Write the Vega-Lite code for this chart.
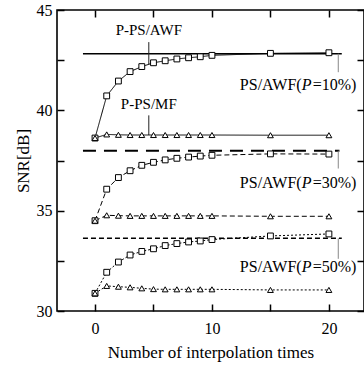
{
  "$schema": "https://vega.github.io/schema/vega-lite/v6.json",
  "width": 307,
  "height": 301,
  "autosize": "none",
  "padding": {"left": 57, "top": 10, "right": 0, "bottom": 58},
  "background": "white",
  "config": {
    "view": {"stroke": "black", "strokeWidth": 1.6},
    "font": "Liberation Serif",
    "axis": {
      "grid": false,
      "domain": false,
      "tickColor": "black",
      "tickWidth": 1.5,
      "labelColor": "black",
      "labelFont": "Liberation Serif",
      "labelFontSize": 16,
      "titleFont": "Liberation Serif",
      "titleFontSize": 17,
      "titleFontWeight": "normal",
      "titleColor": "black"
    }
  },
  "datasets": {
    "pts": [
      {"x": 0, "y": 38.62, "p": "10%", "m": "AWF"},
      {"x": 1, "y": 40.72, "p": "10%", "m": "AWF"},
      {"x": 2, "y": 41.46, "p": "10%", "m": "AWF"},
      {"x": 3, "y": 41.93, "p": "10%", "m": "AWF"},
      {"x": 4, "y": 42.18, "p": "10%", "m": "AWF"},
      {"x": 5, "y": 42.37, "p": "10%", "m": "AWF"},
      {"x": 6, "y": 42.47, "p": "10%", "m": "AWF"},
      {"x": 7, "y": 42.56, "p": "10%", "m": "AWF"},
      {"x": 8, "y": 42.62, "p": "10%", "m": "AWF"},
      {"x": 9, "y": 42.67, "p": "10%", "m": "AWF"},
      {"x": 10, "y": 42.74, "p": "10%", "m": "AWF"},
      {"x": 15, "y": 42.84, "p": "10%", "m": "AWF"},
      {"x": 20, "y": 42.87, "p": "10%", "m": "AWF"},
      {"x": 0, "y": 38.62, "p": "10%", "m": "MF"},
      {"x": 1, "y": 38.8, "p": "10%", "m": "MF"},
      {"x": 2, "y": 38.78, "p": "10%", "m": "MF"},
      {"x": 3, "y": 38.77, "p": "10%", "m": "MF"},
      {"x": 4, "y": 38.77, "p": "10%", "m": "MF"},
      {"x": 5, "y": 38.77, "p": "10%", "m": "MF"},
      {"x": 6, "y": 38.77, "p": "10%", "m": "MF"},
      {"x": 7, "y": 38.77, "p": "10%", "m": "MF"},
      {"x": 8, "y": 38.77, "p": "10%", "m": "MF"},
      {"x": 9, "y": 38.77, "p": "10%", "m": "MF"},
      {"x": 10, "y": 38.77, "p": "10%", "m": "MF"},
      {"x": 15, "y": 38.76, "p": "10%", "m": "MF"},
      {"x": 20, "y": 38.76, "p": "10%", "m": "MF"},
      {"x": 0, "y": 34.5, "p": "30%", "m": "AWF"},
      {"x": 1, "y": 36.07, "p": "30%", "m": "AWF"},
      {"x": 2, "y": 36.65, "p": "30%", "m": "AWF"},
      {"x": 3, "y": 36.99, "p": "30%", "m": "AWF"},
      {"x": 4, "y": 37.26, "p": "30%", "m": "AWF"},
      {"x": 5, "y": 37.41, "p": "30%", "m": "AWF"},
      {"x": 6, "y": 37.53, "p": "30%", "m": "AWF"},
      {"x": 7, "y": 37.61, "p": "30%", "m": "AWF"},
      {"x": 8, "y": 37.67, "p": "30%", "m": "AWF"},
      {"x": 9, "y": 37.72, "p": "30%", "m": "AWF"},
      {"x": 10, "y": 37.76, "p": "30%", "m": "AWF"},
      {"x": 15, "y": 37.83, "p": "30%", "m": "AWF"},
      {"x": 20, "y": 37.82, "p": "30%", "m": "AWF"},
      {"x": 0, "y": 34.5, "p": "30%", "m": "MF"},
      {"x": 1, "y": 34.77, "p": "30%", "m": "MF"},
      {"x": 2, "y": 34.75, "p": "30%", "m": "MF"},
      {"x": 3, "y": 34.74, "p": "30%", "m": "MF"},
      {"x": 4, "y": 34.74, "p": "30%", "m": "MF"},
      {"x": 5, "y": 34.74, "p": "30%", "m": "MF"},
      {"x": 6, "y": 34.74, "p": "30%", "m": "MF"},
      {"x": 7, "y": 34.74, "p": "30%", "m": "MF"},
      {"x": 8, "y": 34.74, "p": "30%", "m": "MF"},
      {"x": 9, "y": 34.74, "p": "30%", "m": "MF"},
      {"x": 10, "y": 34.74, "p": "30%", "m": "MF"},
      {"x": 15, "y": 34.72, "p": "30%", "m": "MF"},
      {"x": 20, "y": 34.72, "p": "30%", "m": "MF"},
      {"x": 0, "y": 30.88, "p": "50%", "m": "AWF"},
      {"x": 1, "y": 31.93, "p": "50%", "m": "AWF"},
      {"x": 2, "y": 32.44, "p": "50%", "m": "AWF"},
      {"x": 3, "y": 32.79, "p": "50%", "m": "AWF"},
      {"x": 4, "y": 32.97, "p": "50%", "m": "AWF"},
      {"x": 5, "y": 33.1, "p": "50%", "m": "AWF"},
      {"x": 6, "y": 33.26, "p": "50%", "m": "AWF"},
      {"x": 7, "y": 33.36, "p": "50%", "m": "AWF"},
      {"x": 8, "y": 33.44, "p": "50%", "m": "AWF"},
      {"x": 9, "y": 33.49, "p": "50%", "m": "AWF"},
      {"x": 10, "y": 33.56, "p": "50%", "m": "AWF"},
      {"x": 15, "y": 33.74, "p": "50%", "m": "AWF"},
      {"x": 20, "y": 33.84, "p": "50%", "m": "AWF"},
      {"x": 0, "y": 30.88, "p": "50%", "m": "MF"},
      {"x": 1, "y": 31.25, "p": "50%", "m": "MF"},
      {"x": 2, "y": 31.21, "p": "50%", "m": "MF"},
      {"x": 3, "y": 31.18, "p": "50%", "m": "MF"},
      {"x": 4, "y": 31.13, "p": "50%", "m": "MF"},
      {"x": 5, "y": 31.09, "p": "50%", "m": "MF"},
      {"x": 6, "y": 31.08, "p": "50%", "m": "MF"},
      {"x": 7, "y": 31.08, "p": "50%", "m": "MF"},
      {"x": 8, "y": 31.08, "p": "50%", "m": "MF"},
      {"x": 9, "y": 31.08, "p": "50%", "m": "MF"},
      {"x": 10, "y": 31.08, "p": "50%", "m": "MF"},
      {"x": 15, "y": 31.05, "p": "50%", "m": "MF"},
      {"x": 20, "y": 31.05, "p": "50%", "m": "MF"}
    ],
    "ref": [
      {"p": "10%", "x": -1.03, "x2": 21.1, "y": 42.82},
      {"p": "30%", "x": -1.03, "x2": 20.9, "y": 37.99},
      {"p": "50%", "x": -1.03, "x2": 21.1, "y": 33.62}
    ],
    "leaders": [
      {"side": "left", "x": 4.6, "y": 43.4, "y2": 42.3},
      {"side": "left", "x": 4.6, "y": 39.75, "y2": 38.77},
      {"side": "right", "x": 20.8, "y": 42.82, "y2": 41.9},
      {"side": "right", "x": 20.8, "y": 37.99, "y2": 37.1},
      {"side": "right", "x": 20.8, "y": 33.62, "y2": 32.6}
    ],
    "names": [
      {"x": 4.6, "y": 44.0, "t": "P-PS/AWF"},
      {"x": 4.6, "y": 40.32, "t": "P-PS/MF"}
    ],
    "plabels": [
      {"x": 18.1, "y": 41.26, "pre": "PS/AWF(", "v": "P", "post": "=10%)"},
      {"x": 18.1, "y": 36.38, "pre": "PS/AWF(", "v": "P", "post": "=30%)"},
      {"x": 18.1, "y": 32.2, "pre": "PS/AWF(", "v": "P", "post": "=50%)"}
    ]
  },
  "layer": [
    {
      "data": {"name": "ref"},
      "transform": [{"filter": "datum.p === '10%'"}],
      "mark": {"type": "rule", "color": "black", "strokeWidth": 1.5},
      "encoding": {
        "x": {"field": "x", "type": "quantitative", "scale": {"domain": [-3.25, 23], "nice": false, "zero": false},
              "axis": {"orient": "bottom", "values": [0, 5, 10, 15, 20], "tickSize": -7, "labelPadding": 16,
                       "labelExpr": "datum.value % 10 === 0 ? datum.label : ''", "title": "Number of interpolation times", "titlePadding": 8}},
        "x2": {"field": "x2"},
        "y": {"field": "y", "type": "quantitative", "scale": {"domain": [30, 45], "nice": false, "zero": false},
              "axis": {"orient": "left", "values": [30, 32.5, 35, 37.5, 40, 42.5, 45], "tickSize": -7, "labelPadding": 12,
                       "labelExpr": "datum.value % 5 === 0 ? format(datum.value, 'd') : ''", "title": "SNR[dB]", "titlePadding": 4}}
      }
    },
    {
      "data": {"name": "ref"},
      "transform": [{"filter": "datum.p === '30%'"}],
      "mark": {"type": "rule", "color": "black", "strokeWidth": 2, "strokeDash": [13, 8]},
      "encoding": {
        "x": {"field": "x", "type": "quantitative",
              "axis": {"orient": "top", "values": [0, 5, 10, 15, 20], "tickSize": -7, "labels": false, "title": null}},
        "x2": {"field": "x2"},
        "y": {"field": "y", "type": "quantitative",
              "axis": {"orient": "right", "values": [30, 32.5, 35, 37.5, 40, 42.5, 45], "tickSize": -7, "labels": false, "title": null}}
      }
    },
    {
      "data": {"name": "ref"},
      "transform": [{"filter": "datum.p === '50%'"}],
      "mark": {"type": "rule", "color": "black", "strokeWidth": 1.5, "strokeDash": [5, 3]},
      "encoding": {
        "x": {"field": "x", "type": "quantitative", "axis": null},
        "x2": {"field": "x2"},
        "y": {"field": "y", "type": "quantitative", "axis": null}
      }
    },
    {
      "data": {"name": "leaders"},
      "mark": {"type": "rule", "strokeWidth": 1},
      "encoding": {
        "x": {"field": "x", "type": "quantitative", "axis": null},
        "y": {"field": "y", "type": "quantitative", "axis": null},
        "y2": {"field": "y2"},
        "color": {"field": "side", "type": "nominal", "scale": {"domain": ["left", "right"], "range": ["#222222", "#888888"]}, "legend": null}
      }
    },
    {
      "data": {"name": "pts"},
      "mark": {"type": "line", "color": "black", "strokeWidth": 1},
      "encoding": {
        "x": {"field": "x", "type": "quantitative", "axis": null},
        "y": {"field": "y", "type": "quantitative", "axis": null},
        "detail": {"field": "m", "type": "nominal"},
        "strokeDash": {"field": "p", "type": "nominal", "scale": {"domain": ["10%", "30%", "50%"], "range": [[1, 0], [5, 3], [2, 2]]}, "legend": null}
      }
    },
    {
      "data": {"name": "pts"},
      "mark": {"type": "point", "filled": true, "fill": "white", "stroke": "black", "strokeWidth": 1, "size": 34, "opacity": 1},
      "encoding": {
        "x": {"field": "x", "type": "quantitative", "axis": null},
        "y": {"field": "y", "type": "quantitative", "axis": null},
        "shape": {"field": "m", "type": "nominal", "scale": {"domain": ["AWF", "MF"], "range": ["square", "triangle-up"]}, "legend": null}
      }
    },
    {
      "data": {"name": "names"},
      "mark": {"type": "text", "font": "Liberation Serif", "fontSize": 15, "color": "black", "baseline": "middle", "align": "center"},
      "encoding": {
        "x": {"field": "x", "type": "quantitative", "axis": null},
        "y": {"field": "y", "type": "quantitative", "axis": null},
        "text": {"field": "t"}
      }
    },
    {
      "data": {"name": "plabels"},
      "mark": {"type": "text", "font": "Liberation Serif", "fontSize": 16, "color": "black", "baseline": "middle", "align": "right", "dx": -5},
      "encoding": {
        "x": {"field": "x", "type": "quantitative", "axis": null},
        "y": {"field": "y", "type": "quantitative", "axis": null},
        "text": {"field": "pre"}
      }
    },
    {
      "data": {"name": "plabels"},
      "mark": {"type": "text", "font": "Liberation Serif", "fontSize": 16, "fontStyle": "italic", "color": "black", "baseline": "middle", "align": "center"},
      "encoding": {
        "x": {"field": "x", "type": "quantitative", "axis": null},
        "y": {"field": "y", "type": "quantitative", "axis": null},
        "text": {"field": "v"}
      }
    },
    {
      "data": {"name": "plabels"},
      "mark": {"type": "text", "font": "Liberation Serif", "fontSize": 16, "color": "black", "baseline": "middle", "align": "left", "dx": 6},
      "encoding": {
        "x": {"field": "x", "type": "quantitative", "axis": null},
        "y": {"field": "y", "type": "quantitative", "axis": null},
        "text": {"field": "post"}
      }
    }
  ],
  "resolve": {"axis": {"x": "independent", "y": "independent"}}
}
